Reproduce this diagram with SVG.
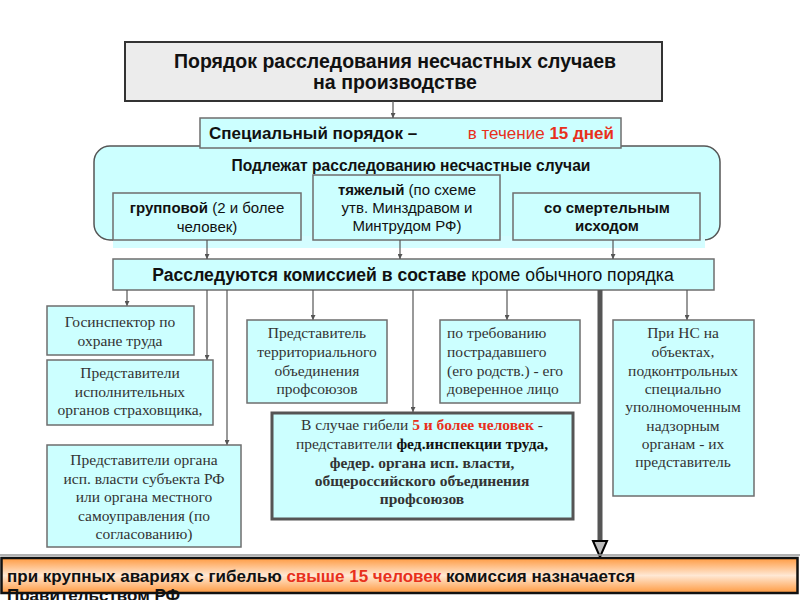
<svg xmlns="http://www.w3.org/2000/svg" width="800" height="600" viewBox="0 0 800 600">
<defs>
<style>
.box{fill:#ccffff;stroke:#6e6e6e;stroke-width:1.5}
.sans{font-family:"Liberation Sans",Arial,sans-serif;fill:#111}
.serif{font-family:"Liberation Serif","Times New Roman",serif;font-size:15.5px;fill:#333}
.b{font-weight:bold}
.red{fill:#e8301c}
.conn{stroke:#555;stroke-width:1.2;fill:none}
.c{text-anchor:middle}
</style>
<marker id="ah" viewBox="0 0 8 8" refX="8" refY="4" markerWidth="5" markerHeight="5" orient="auto" markerUnits="userSpaceOnUse">
<path d="M0,0 L8,4 L0,8 z" fill="#555"/>
</marker>
<linearGradient id="og" x1="0" y1="0" x2="0" y2="1">
<stop offset="0" stop-color="#ff9a40"/>
<stop offset="0.5" stop-color="#ffe8d4"/>
<stop offset="1" stop-color="#ff9a40"/>
</linearGradient>
</defs>
<rect width="800" height="600" fill="#fff"/>

<g id="title">
<rect x="125" y="42" width="537" height="59" fill="#ececec" stroke="#333" stroke-width="2"/>
<text class="sans b c" x="395" y="68" font-size="19.5">Порядок расследования несчастных случаев</text>
<text class="sans b c" x="395" y="89" font-size="19.5">на производстве</text>
</g>

<g id="group-area">
<rect x="94" y="146" width="626" height="94" rx="16" fill="#ccffff" stroke="#555" stroke-width="1.5"/>
<rect x="113" y="236" width="592" height="12" fill="#d4fdff"/>
<text class="sans b c" x="411" y="171" font-size="15.6">Подлежат расследованию несчастные случаи</text>
</g>

<g id="special">
<rect class="box" x="200" y="118" width="421" height="30"/>
<text class="sans b" x="209" y="139" font-size="17">Специальный порядок  –</text>
<text class="sans red" x="614" y="139" font-size="17" text-anchor="end">в течение <tspan class="b">15 дней</tspan></text>
</g>

<g id="group">
<rect class="box" x="113" y="193" width="188" height="47"/>
<text class="sans c" x="207" y="213" font-size="15"><tspan class="b">групповой</tspan> (2 и более</text>
<text class="sans c" x="207" y="232" font-size="15">человек)</text>
</g>

<g id="heavy">
<rect class="box" x="313" y="175" width="187" height="65"/>
<text class="sans c" x="407" y="195" font-size="15"><tspan class="b">тяжелый</tspan> (по схеме</text>
<text class="sans c" x="407" y="213" font-size="15">утв. Минздравом и</text>
<text class="sans c" x="407" y="231" font-size="15">Минтрудом РФ)</text>
</g>

<g id="fatal">
<rect class="box" x="513" y="193" width="187" height="47"/>
<text class="sans b c" x="607" y="213" font-size="15">со смертельным</text>
<text class="sans b c" x="607" y="231" font-size="15">исходом</text>
</g>

<g id="commission">
<rect class="box" x="113" y="259" width="601" height="31"/>
<text class="sans c" x="413" y="281" font-size="17.6"><tspan class="b">Расследуются комиссией в составе</tspan> кроме обычного порядка</text>
</g>

<g id="connectors">
<line class="conn" x1="393" y1="101" x2="393" y2="118" marker-end="url(#ah)"/>
<line class="conn" x1="207" y1="240" x2="207" y2="259" marker-end="url(#ah)"/>
<line class="conn" x1="400" y1="240" x2="400" y2="259" marker-end="url(#ah)"/>
<line class="conn" x1="613" y1="240" x2="613" y2="259" marker-end="url(#ah)"/>
<line class="conn" x1="127" y1="290" x2="127" y2="306" marker-end="url(#ah)"/>
<line class="conn" x1="207" y1="290" x2="207" y2="360" marker-end="url(#ah)"/>
<line class="conn" x1="227" y1="290" x2="227" y2="445" marker-end="url(#ah)"/>
<line class="conn" x1="313" y1="290" x2="313" y2="320" marker-end="url(#ah)"/>
<line class="conn" x1="413" y1="290" x2="413" y2="412" marker-end="url(#ah)"/>
<line class="conn" x1="507" y1="290" x2="507" y2="320" marker-end="url(#ah)"/>
<line class="conn" x1="687" y1="290" x2="687" y2="320" marker-end="url(#ah)"/>
<line x1="600" y1="290" x2="600" y2="542" stroke="#555" stroke-width="5"/>
<polygon points="593,541 607,541 600,557" fill="#bbb" stroke="#000" stroke-width="2"/>
</g>

<g id="inspector">
<rect class="box" x="47" y="306" width="147" height="49"/>
<text class="serif c" x="120" y="327">Госинспектор по</text>
<text class="serif c" x="120" y="346">охране труда</text>
</g>

<g id="insurer">
<rect class="box" x="47" y="360" width="166" height="65"/>
<text class="serif c" x="130" y="378">Представители</text>
<text class="serif c" x="130" y="397">исполнительных</text>
<text class="serif c" x="130" y="415">органов страховщика,</text>
</g>

<g id="local-authority">
<rect class="box" x="47" y="445" width="194" height="102"/>
<text class="serif c" x="144" y="465">Представители органа</text>
<text class="serif c" x="144" y="484">исп. власти субъекта РФ</text>
<text class="serif c" x="144" y="502">или органа местного</text>
<text class="serif c" x="144" y="521">самоуправления (по</text>
<text class="serif c" x="144" y="539">согласованию)</text>
</g>

<g id="union">
<rect class="box" x="247" y="320" width="140" height="83"/>
<text class="serif c" x="317" y="338">Представитель</text>
<text class="serif c" x="317" y="357">территориального</text>
<text class="serif c" x="317" y="376">объединения</text>
<text class="serif c" x="317" y="394">профсоюзов</text>
</g>

<g id="five-dead">
<rect x="272" y="413" width="301" height="106" fill="#ccffff" stroke="#555" stroke-width="3"/>
<text class="serif c" x="422" y="430">В случае гибели <tspan class="b red">5 и более человек</tspan> -</text>
<text class="serif c" x="422" y="449">представители <tspan class="b" fill="#111">фед.инспекции труда,</tspan></text>
<text class="serif b c" x="422" y="468" fill="#111">федер. органа исп. власти,</text>
<text class="serif b c" x="422" y="486" fill="#111">общероссийского объединения</text>
<text class="serif b c" x="422" y="504" fill="#111">профсоюзов</text>
</g>

<g id="victim">
<rect class="box" x="440" y="320" width="140" height="83"/>
<text class="serif" x="447" y="338">по требованию</text>
<text class="serif" x="447" y="357">пострадавшего</text>
<text class="serif" x="447" y="376">(его родств.) - его</text>
<text class="serif" x="447" y="394">доверенное лицо</text>
</g>

<g id="supervision">
<rect class="box" x="613" y="320" width="141" height="176"/>
<text class="serif c" x="683" y="338">При НС на</text>
<text class="serif c" x="683" y="357">объектах,</text>
<text class="serif c" x="683" y="376">подконтрольных</text>
<text class="serif c" x="683" y="394">специально</text>
<text class="serif c" x="683" y="412">уполномоченным</text>
<text class="serif c" x="683" y="431">надзорным</text>
<text class="serif c" x="683" y="449">органам - их</text>
<text class="serif c" x="683" y="467">представитель</text>
</g>

<g id="banner">
<line x1="0" y1="555" x2="800" y2="555" stroke="#999" stroke-width="1.5"/>
<rect x="1.5" y="558" width="796" height="35" fill="url(#og)" stroke="#111" stroke-width="2.5"/>
<text class="sans b" x="7" y="582" font-size="17">при крупных авариях с гибелью <tspan class="red">свыше 15 человек</tspan> комиссия назначается</text>
<text class="sans b" x="7" y="601" font-size="17">Правительством РФ</text>
</g>
</svg>
